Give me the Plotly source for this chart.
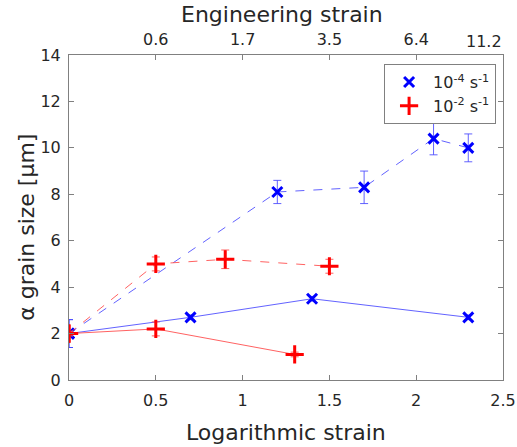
import plotly.graph_objects as go

# Data
slow_dash_x = [0, 1.2, 1.7, 2.1, 2.3]
slow_dash_y = [2.0, 8.1, 8.3, 10.4, 10.0]
slow_dash_err = [0.6, 0.5, 0.7, 0.7, 0.6]

slow_solid_x = [0, 0.7, 1.4, 2.3]
slow_solid_y = [2.0, 2.7, 3.5, 2.7]
slow_solid_err = [0.6, 0.1, 0.1, 0.1]

fast_dash_x = [0, 0.5, 0.9, 1.5]
fast_dash_y = [2.0, 5.0, 5.2, 4.9]
fast_dash_err = [0.1, 0.3, 0.4, 0.3]

fast_solid_x = [0, 0.5, 1.3]
fast_solid_y = [2.0, 2.2, 1.1]
fast_solid_err = [0.1, 0.3, 0.1]

top_tickvals = [0.5, 1.0, 1.5, 2.0, 2.5]
top_ticktext = ["0.6", "1.7", "3.5", "6.4", "11.2"]
bottom_tickvals = [0, 0.5, 1, 1.5, 2, 2.5]
bottom_ticktext = ["0", "0.5", "1", "1.5", "2", "2.5"]
y_tickvals = [0, 2, 4, 6, 8, 10, 12, 14]

BLUE = "rgb(0,0,255)"
RED = "rgb(255,0,0)"
BLUE_L = "rgba(70,70,255,0.85)"
RED_L = "rgba(255,70,70,0.85)"
FONT = "DejaVu Sans, Liberation Sans, Arial, sans-serif"
TXT = "#262626"
AX = "#808080"

fig = go.Figure()

def add_series(x, y, err, color, lcolor, dash, symbol, size):
    fig.add_trace(go.Scatter(
        x=x, y=y, mode="lines",
        line=dict(color=lcolor, width=1, dash=dash),
        showlegend=False, hoverinfo="skip"))
    fig.add_trace(go.Scatter(
        x=x, y=y, mode="markers",
        marker=dict(symbol=symbol, size=size, color=color,
                    line=dict(color=color, width=3)),
        error_y=dict(type="data", array=err, color=lcolor, thickness=1, width=4),
        showlegend=False))

add_series(slow_dash_x, slow_dash_y, slow_dash_err, BLUE, BLUE_L, "dash", "x-thin", 10)
add_series(slow_solid_x, slow_solid_y, slow_solid_err, BLUE, BLUE_L, "solid", "x-thin", 10)
add_series(fast_dash_x, fast_dash_y, fast_dash_err, RED, RED_L, "dash", "cross-thin", 13)
add_series(fast_solid_x, fast_solid_y, fast_solid_err, RED, RED_L, "solid", "cross-thin", 13)

# Legend entries
fig.add_trace(go.Scatter(x=[None], y=[None], mode="markers", name="10<sup>-4</sup> s<sup>-1</sup>",
                         legendgroup="a",
                         marker=dict(symbol="x-thin", size=10, color=BLUE, line=dict(color=BLUE, width=3))))
fig.add_trace(go.Scatter(x=[None], y=[None], mode="markers", name="10<sup>-2</sup> s<sup>-1</sup>",
                         legendgroup="b",
                         marker=dict(symbol="cross-thin", size=13, color=RED, line=dict(color=RED, width=3))))

# Invisible trace for top axis
fig.add_trace(go.Scatter(x=[0, 2.5], y=[0, 0], xaxis="x2", mode="markers",
                         marker=dict(opacity=0), showlegend=False, hoverinfo="skip"))

tick_font = dict(family=FONT, size=16, color=TXT)
title_font = dict(family=FONT, size=22, color=TXT)

# top labels: all but the last as tick labels; the last one is right-aligned at the edge
top_labels_axis = top_ticktext[:-1] + [""]

fig.update_layout(
    width=517, height=447,
    margin=dict(l=69, r=14, t=55, b=67),
    plot_bgcolor="white", paper_bgcolor="white",
    font=tick_font,
    xaxis=dict(range=[0, 2.5], tickvals=bottom_tickvals, ticktext=bottom_ticktext,
               ticks="inside", ticklen=5, tickcolor=AX, showgrid=False, zeroline=False,
               showline=True, linecolor=AX, linewidth=1, mirror="ticks",
               automargin=False, ticklabelstandoff=6, tickfont=tick_font),
    xaxis2=dict(range=[0, 2.5], overlaying="x", side="top", tickvals=top_tickvals,
                ticktext=top_labels_axis, ticks="inside", ticklen=5, tickcolor=AX,
                showgrid=False, zeroline=False, showline=False,
                automargin=False, ticklabelstandoff=6,
                tickfont=tick_font),
    yaxis=dict(range=[0, 14], tickvals=y_tickvals,
               ticks="inside", ticklen=5, tickcolor=AX, showgrid=False, zeroline=False,
               showline=True, linecolor=AX, linewidth=1, mirror="ticks",
               automargin=False, ticklabelstandoff=4, tickfont=tick_font),
    legend=dict(x=0.726, y=0.972, xanchor="left", yanchor="top",
                bgcolor="white", bordercolor=AX, borderwidth=1,
                itemwidth=38, tracegroupgap=0,
                font=dict(family=FONT, size=16, color=TXT)),
    annotations=[
        dict(text="Logarithmic strain", xref="paper", yref="paper", x=0.5, y=-0.16,
             xanchor="center", yanchor="middle", showarrow=False, font=title_font),
        dict(text="Engineering strain", xref="paper", yref="paper", x=0.49, y=1.126,
             xanchor="center", yanchor="middle", showarrow=False, font=title_font),
        dict(text="α grain size [μm]", xref="paper", yref="paper", x=-0.097, y=0.471,
             xanchor="center", yanchor="middle", textangle=-90, showarrow=False, font=title_font),
        dict(text=top_ticktext[-1], xref="paper", yref="paper", x=1.003, y=1.043,
             xanchor="right", yanchor="middle", showarrow=False, font=tick_font),
    ],
)

fig.write_html("out.html", config={"displayModeBar": False},
               post_script="document.body.style.margin='0';")
